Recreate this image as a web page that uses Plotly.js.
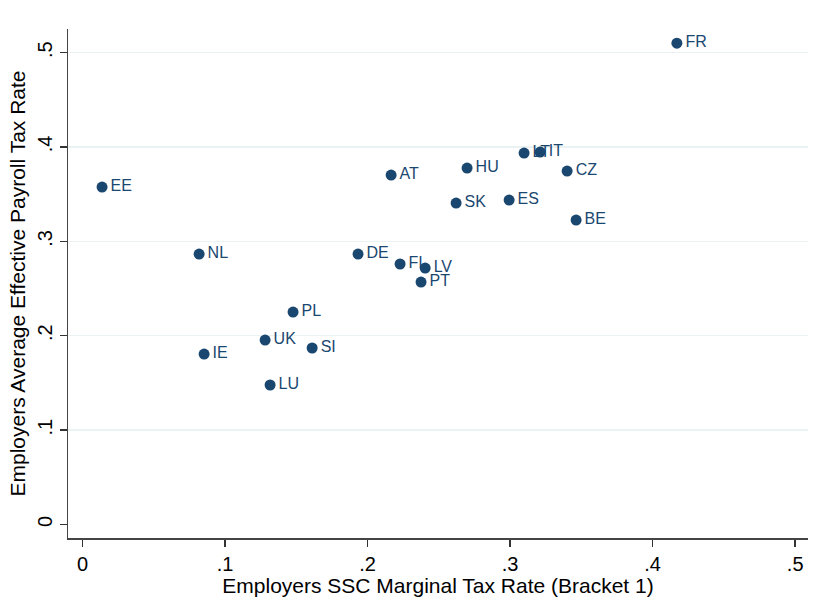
<!DOCTYPE html>
<html>
<head>
<meta charset="utf-8">
<script src="https://cdn.plot.ly/plotly-3.0.1.min.js"></script>
<style>html,body{margin:0;padding:0;background:#fff;}#chart{width:817px;height:604px;}</style>
</head>
<body>
<div id="chart"></div>
<script>
const countries = ["FR","EE","NL","IE","UK","PL","SI","LU","DE","AT","FI","LV","PT","SK","HU","LT","IT","ES","CZ","BE"];
const sscMarginal = [0.417,0.0137,0.0818,0.0853,0.1281,0.1477,0.1611,0.1316,0.1933,0.2165,0.2228,0.2404,0.2375,0.2621,0.2698,0.3098,0.3211,0.2993,0.340,0.3463];
const avgPayroll = [0.510,0.3575,0.2865,0.1806,0.1954,0.2251,0.187,0.1478,0.2865,0.3702,0.2760,0.2717,0.2569,0.3406,0.3776,0.3935,0.3946,0.3438,0.3745,0.3226];
const tickVals = [0,0.1,0.2,0.3,0.4,0.5];
const tickText = ["0",".1",".2",".3",".4",".5"];
const gridVals = [0.1,0.2,0.3,0.4,0.5];

const navy = '#1a476f';
const font = 'Helvetica, Arial, "Liberation Sans", sans-serif';

const traces = [
  {
    x: sscMarginal, y: avgPayroll, text: countries,
    type: 'scatter', mode: 'markers+text',
    marker: {size: 12, color: 'rgba(0,0,0,0)'},
    textposition: 'middle right',
    textfont: {family: font, size: 16, color: navy},
    hoverinfo: 'skip', showlegend: false
  },
  {
    x: sscMarginal, y: avgPayroll, text: countries,
    type: 'scatter', mode: 'markers',
    marker: {size: 11, color: navy},
    showlegend: false
  },
  {
    x: [], y: [], yaxis: 'y2', type: 'scatter', showlegend: false
  }
];

const layout = {
  width: 817, height: 604,
  margin: {l: 68, r: 9, t: 29, b: 66},
  paper_bgcolor: '#fff', plot_bgcolor: '#fff',
  font: {family: font, color: '#000'},
  showlegend: false,
  xaxis: {
    range: [-0.0102, 0.509],
    tickvals: tickVals, ticktext: tickText,
    ticks: 'outside', ticklen: 7, tickwidth: 1.5, tickcolor: '#333',
    showgrid: false, zeroline: false,
    showline: true, linecolor: '#444', linewidth: 1.5,
    tickfont: {family: font, size: 20, color: '#000'},
    title: {text: 'Employers SSC Marginal Tax Rate (Bracket 1)', font: {family: font, size: 21, color: '#000'}, standoff: 3}
  },
  yaxis: {
    range: [-0.0143, 0.525],
    tickvals: tickVals, ticktext: tickText, tickangle: -90,
    ticks: 'outside', ticklen: 7, tickwidth: 1.5, tickcolor: '#333',
    showgrid: false, zeroline: false,
    showline: true, linecolor: '#444', linewidth: 1.5,
    tickfont: {family: font, size: 20, color: '#000'},
    title: {text: 'Employers Average Effective Payroll Tax Rate', font: {family: font, size: 21, color: '#000'}, standoff: 2}
  },
  yaxis2: {
    overlaying: 'y', matches: 'y',
    tickvals: gridVals, showticklabels: false, ticks: '',
    showgrid: true, gridcolor: '#eaf2f3', gridwidth: 1.5,
    zeroline: false, showline: false, layer: 'below traces'
  }
};

Plotly.newPlot('chart', traces, layout, {displayModeBar: false, staticPlot: true});
</script>
</body>
</html>
